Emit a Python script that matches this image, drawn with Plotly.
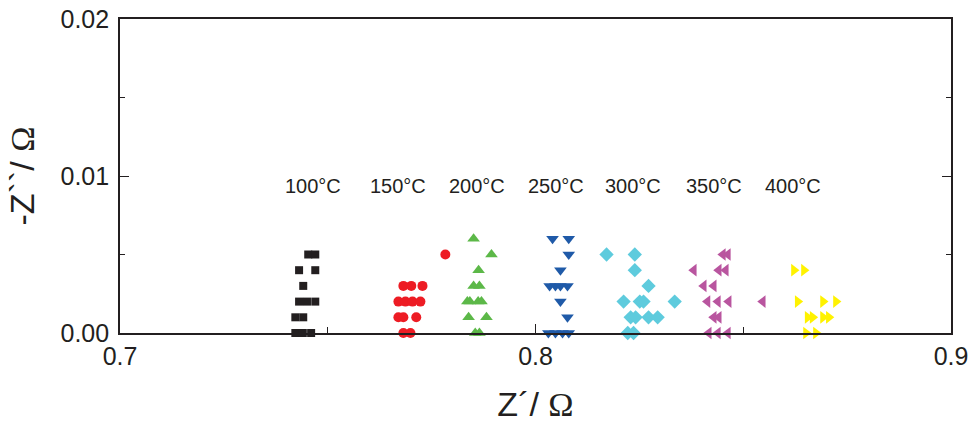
import plotly.graph_objects as go

# --- data ---
temps = ["100°C", "150°C", "200°C", "250°C", "300°C", "350°C", "400°C"]

x_100 = [0.7453, 0.7470, 0.7431, 0.7470, 0.7441, 0.7431, 0.7450, 0.7470, 0.7422, 0.7441, 0.7422, 0.7440, 0.7460]
y_100 = [0.005, 0.005, 0.004, 0.004, 0.003, 0.002, 0.002, 0.002, 0.001, 0.001, 0.0, 0.0, 0.0]

x_150 = [0.7783, 0.7682, 0.7701, 0.7728, 0.7670, 0.7687, 0.7704, 0.7723, 0.7670, 0.7682, 0.7713, 0.7682, 0.7699]
y_150 = [0.005, 0.003, 0.003, 0.003, 0.002, 0.002, 0.002, 0.002, 0.001, 0.001, 0.001, 0.0, 0.0]

x_200 = [0.7851, 0.7894, 0.7863, 0.7851, 0.7865, 0.7836, 0.7842, 0.7862, 0.7870, 0.7839, 0.7882, 0.7855, 0.7865]
y_200 = [0.006, 0.005, 0.004, 0.003, 0.003, 0.002, 0.002, 0.002, 0.002, 0.001, 0.001, 0.0, 0.0]

x_250 = [0.8041, 0.8080, 0.8080, 0.8060, 0.8034, 0.8048, 0.8060, 0.8077, 0.8060, 0.8077, 0.8031, 0.8048, 0.8065, 0.8080]
y_250 = [0.006, 0.006, 0.005, 0.004, 0.003, 0.003, 0.003, 0.003, 0.002, 0.001, 0.0, 0.0, 0.0, 0.0]

x_300 = [0.8171, 0.8239, 0.8239, 0.8272, 0.8212, 0.8251, 0.8260, 0.8335, 0.8229, 0.8241, 0.8272, 0.8294, 0.8222, 0.8236]
y_300 = [0.005, 0.005, 0.004, 0.003, 0.002, 0.002, 0.002, 0.002, 0.001, 0.001, 0.001, 0.001, 0.0, 0.0]

x_350 = [0.8451, 0.8463, 0.8381, 0.8441, 0.8458, 0.8405, 0.8429, 0.8414, 0.8439, 0.8465, 0.8547, 0.8429, 0.8441, 0.8417, 0.8439, 0.8463]
y_350 = [0.005, 0.005, 0.004, 0.004, 0.004, 0.003, 0.003, 0.002, 0.002, 0.002, 0.002, 0.001, 0.001, 0.0, 0.0, 0.0]

x_400 = [0.8622, 0.8646, 0.8631, 0.8692, 0.8723, 0.8655, 0.8667, 0.8692, 0.8706, 0.8651, 0.8675]
y_400 = [0.004, 0.004, 0.002, 0.002, 0.002, 0.001, 0.001, 0.001, 0.001, 0.0, 0.0]

label_x = [0.7464, 0.7669, 0.7859, 0.8049, 0.8235, 0.8430, 0.8620]
label_y = 0.00935

x_ticks = [0.7, 0.8, 0.9]
x_ticktext = ["0.7", "0.8", "0.9"]
y_ticks = [0.0, 0.01, 0.02]
y_ticktext = ["0.00", "0.01", "0.02"]

# --- styles ---
series = [
    (x_100, y_100, "square", "#231f20", 8),
    (x_150, y_150, "circle", "#ed1c24", 10),
    (x_200, y_200, "triangle-up", "#5cb848", 11),
    (x_250, y_250, "triangle-down", "#1f5aa8", 11),
    (x_300, y_300, "diamond", "#5ecbdd", 11),
    (x_350, y_350, "triangle-left", "#b9559f", 11),
    (x_400, y_400, "triangle-right", "#fff200", 11),
]

fig = go.Figure()
for (xs, ys, sym, col, sz), name in zip(series, temps):
    fig.add_trace(go.Scatter(
        x=xs, y=ys, mode="markers", name=name, cliponaxis=False,
        marker=dict(symbol=sym, color=col, size=sz, line=dict(width=0)),
    ))

for t, lx in zip(temps, label_x):
    fig.add_annotation(x=lx, y=label_y, text=t, showarrow=False,
                       font=dict(family="Liberation Sans, Arial", size=20, color="#231f20"))

axis_common = dict(
    showline=True, linecolor="#231f20", linewidth=1.6,
    showgrid=False, zeroline=False, ticks="inside", tickcolor="#231f20",
    tickwidth=1.2, ticklen=9, automargin=False,
    tickfont=dict(family="Liberation Sans, Arial", size=25, color="#231f20"),
)

fig.update_layout(
    width=972, height=423,
    margin=dict(l=120, r=21, t=19, b=90),
    plot_bgcolor="white", paper_bgcolor="white",
    showlegend=False,
    xaxis=dict(
        range=[0.7, 0.9], tickvals=x_ticks, ticktext=x_ticktext, mirror=True,
        minor=dict(tickvals=[0.75, 0.85], ticks="inside", ticklen=6, tickcolor="#231f20", tickwidth=1.2),
        title=dict(text='Z´/ <span style="font-family:Liberation Serif, Times New Roman">Ω</span>',
                   font=dict(family="Liberation Sans, Arial", size=34, color="#231f20"), standoff=24),
        **axis_common,
    ),
    yaxis=dict(
        range=[0.0, 0.02], tickvals=y_ticks, ticktext=y_ticktext, mirror="ticks",
        minor=dict(tickvals=[0.005, 0.015], ticks="inside", ticklen=5, tickcolor="#231f20", tickwidth=1.2),
        title=dict(text='-Z``/ <span style="font-family:Liberation Serif, Times New Roman">Ω</span>',
                   font=dict(family="Liberation Sans, Arial", size=34, color="#231f20"), standoff=16),
        ticklabelstandoff=4,
        **axis_common,
    ),
)

fig.write_html("out.html")
